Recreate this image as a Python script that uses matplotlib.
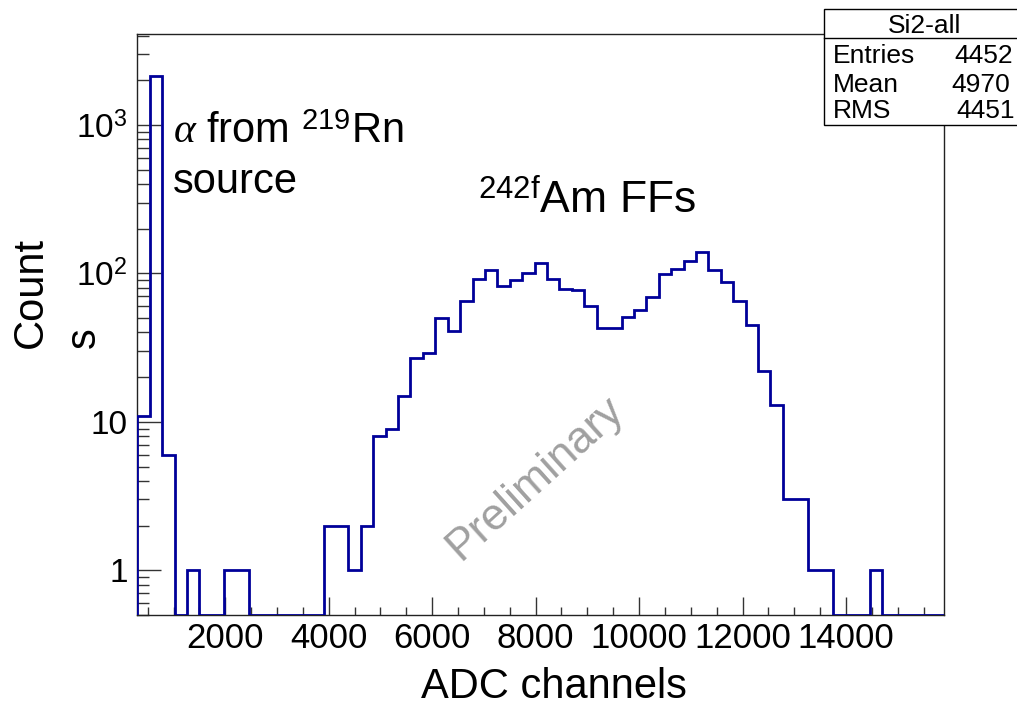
import numpy as np
import matplotlib
matplotlib.use('Agg')
import matplotlib.pyplot as plt
from matplotlib.patches import Rectangle
from matplotlib.lines import Line2D
from matplotlib.ticker import FixedLocator, LogLocator, MultipleLocator, FixedFormatter, NullFormatter

plt.rcParams['font.family'] = ['Liberation Sans', 'DejaVu Sans']
plt.rcParams['mathtext.fontset'] = 'custom'
plt.rcParams['mathtext.rm'] = 'Liberation Sans'
plt.rcParams['mathtext.it'] = 'Liberation Serif:italic'
plt.rcParams['mathtext.bf'] = 'Liberation Sans:bold'

# ---------------- data ----------------
bin_low = 300
bin_width = 240
n_bins = 65
counts = [11, 2150, 6, 0, 1, 0, 0, 1, 1, 0, 0, 0, 0, 0, 0, 2, 2, 1, 2,
          8, 9, 15, 27, 29, 50, 41, 65, 92, 105, 82, 90, 100, 117, 92, 78,
          77, 60, 43, 43, 51, 57, 69, 99, 107, 121, 140, 105, 88, 65, 45,
          22, 13, 3, 3, 1, 1, 0, 0, 0, 1, 0, 0, 0, 0, 0]
x_ticks = [2000, 4000, 6000, 8000, 10000, 12000, 14000]
x_ticklabels = ['2000', '4000', '6000', '8000', '10000', '12000', '14000']
y_ticks = [1, 10, 100, 1000]
y_ticklabels = ['1', '10', r'$10^{2}$', r'$10^{3}$']
stats_title = 'Si2-all'
stats_names = ['Entries', 'Mean', 'RMS']
stats_values = ['4452', '4970', '4451']

# ---------------- figure ----------------
W, H = 1017, 705
fig = plt.figure(figsize=(W / 100, H / 100), dpi=100)
L, R, T, B = 137.3, 944.3, 34, 615
ax = fig.add_axes([L / W, 1 - B / H, (R - L) / W, (B - T) / H])

edges = bin_low + bin_width * np.arange(n_bins + 1)
y_min, y_max = 0.5, 4100
vals = np.array(counts, dtype=float)
ax.stairs(np.where(vals > 0, vals, y_min), edges, baseline=y_min,
          color='#000099', lw=2.0, zorder=3)

ax.set_yscale('log')
ax.set_xlim(edges[0], edges[-1])
ax.set_ylim(y_min, y_max)

ax.xaxis.set_major_locator(FixedLocator(x_ticks))
ax.xaxis.set_major_formatter(FixedFormatter(x_ticklabels))
ax.xaxis.set_minor_locator(MultipleLocator(500))
ax.yaxis.set_major_locator(FixedLocator(y_ticks))
ax.yaxis.set_major_formatter(FixedFormatter(y_ticklabels))
ax.yaxis.set_minor_locator(LogLocator(base=10, subs=np.arange(2, 10)))
ax.yaxis.set_minor_formatter(NullFormatter())

ax.tick_params(which='both', direction='in', top=False, right=False, color='#333333')
ax.tick_params(axis='x', which='major', length=13, width=1, labelsize=25, pad=5)
ax.tick_params(axis='x', which='minor', length=6, width=1)
ax.tick_params(axis='y', which='major', length=17, width=1, labelsize=24, pad=7)
ax.tick_params(axis='y', which='minor', length=8.5, width=1)
for s in ax.spines.values():
    s.set_linewidth(1.0)
    s.set_color('#222222')


def fx(x):
    return x / W


def fy(y):
    return 1 - y / H


# annotations
fig.text(fx(173), fy(143), r'$\alpha$ from $^{219}$Rn', fontsize=30, va='baseline', ha='left')
fig.text(fx(173), fy(193), 'source', fontsize=30, va='baseline', ha='left')
fig.text(fx(478), fy(212), r'$^{242\mathrm{f}}$Am FFs', fontsize=32, va='baseline', ha='left')
fig.text(fx(535), fy(478), 'Preliminary', fontsize=32, color='#a0a0a0', rotation=42,
         ha='center', va='center', rotation_mode='anchor')

# axis titles
fig.text(fx(554), fy(698), 'ADC channels', fontsize=30, ha='center', va='baseline')
fig.text(fx(31), fy(348), 'Count', fontsize=30, rotation=90, ha='center', va='bottom')
fig.text(fx(84), fy(348), 's', fontsize=30, rotation=90, ha='center', va='bottom')

# stats box
fig.add_artist(Rectangle((fx(824), fy(125)), (1035 - 824) / W, (125 - 9.3) / H,
                         transform=fig.transFigure, facecolor='white', edgecolor='black',
                         lw=1.0, zorder=5))
fig.add_artist(Line2D([fx(824), fx(1035)], [fy(37.7), fy(37.7)], transform=fig.transFigure,
                      color='black', lw=1.0, zorder=6))
fig.text(fx(925), fy(33), stats_title, fontsize=19, ha='center', va='baseline', zorder=7)
rows_y = [63, 92, 118]
rights = [1013, 1010, 1015]
for name, val, yb, xr in zip(stats_names, stats_values, rows_y, rights):
    fig.text(fx(833), fy(yb), name, fontsize=19, ha='left', va='baseline', zorder=7)
    fig.text(fx(xr), fy(yb), val, fontsize=19, ha='right', va='baseline', zorder=7)

fig.savefig('out.png', dpi=100)
